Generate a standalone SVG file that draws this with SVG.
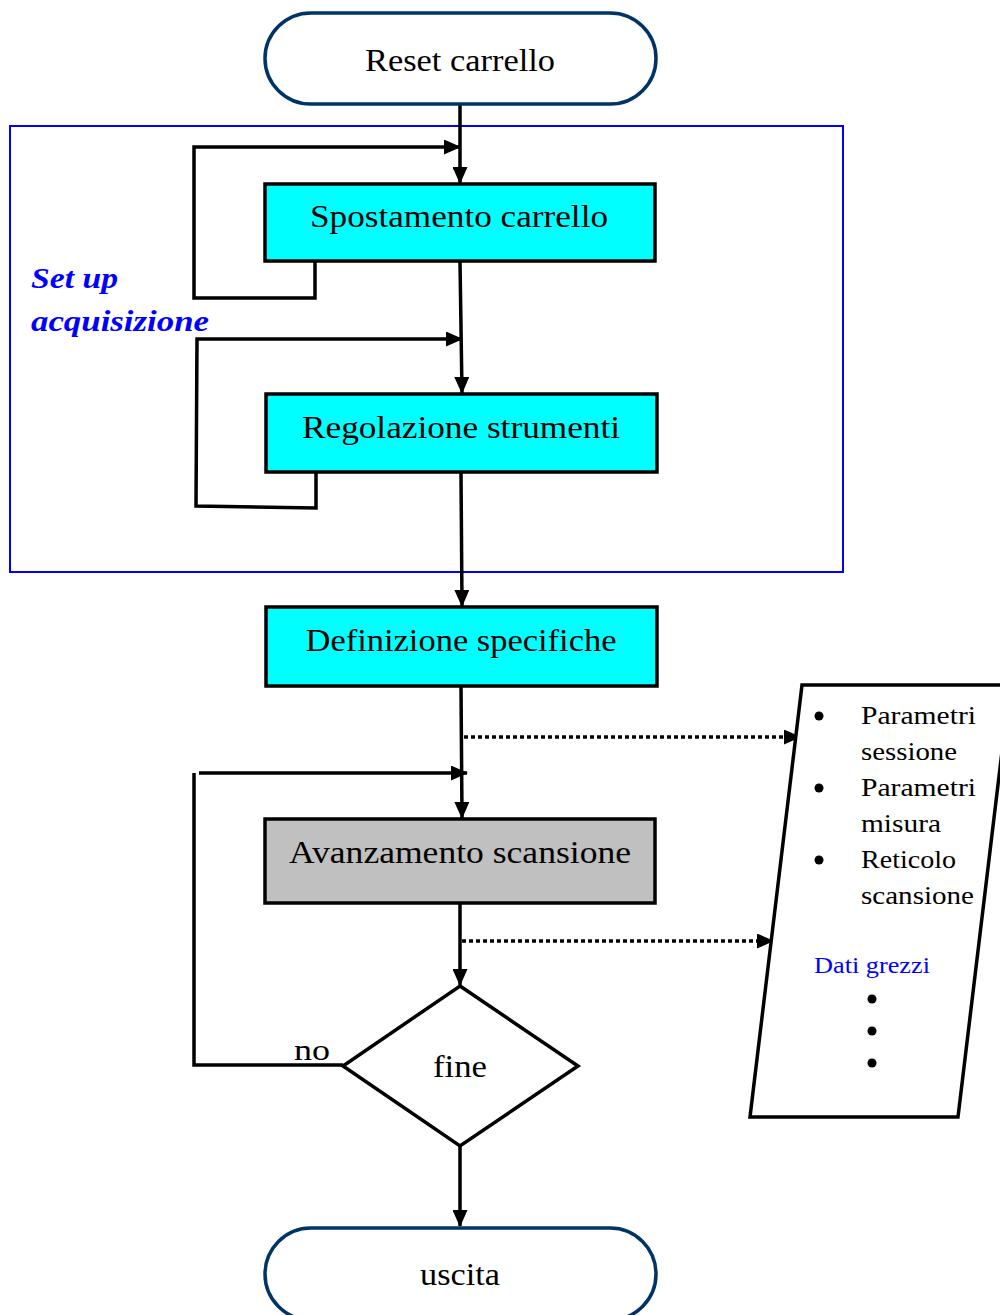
<svg xmlns="http://www.w3.org/2000/svg" width="1000" height="1315" viewBox="0 0 1000 1315">
  <defs>
    <marker id="arr" viewBox="0 0 17 15" refX="16" refY="7.5" markerWidth="17" markerHeight="15" markerUnits="userSpaceOnUse" orient="auto">
      <path d="M0,0 L17,7.5 L0,15 Z" fill="#000"/>
    </marker>
  </defs>
  <style>
    .t { font-family: "Liberation Serif", "DejaVu Serif", serif; fill: #000; }
    .big { font-size: 31px; text-anchor: middle; }
    .box { stroke: #000; stroke-width: 3.5; }
    .term { fill: #fff; stroke: #003366; stroke-width: 3.5; }
    .ln { fill: none; stroke: #000; stroke-width: 3.5; }
    .dot { fill: none; stroke: #000; stroke-width: 3.5; stroke-dasharray: 4 3; }
    .side { font-size: 25px; }
  </style>
  <rect width="1000" height="1315" fill="#fff"/>

  <!-- set-up group frame -->
  <g id="setup-frame">
    <rect x="10" y="126" width="833" height="446" fill="none" stroke="#0000ff" stroke-width="2"/>
    <text class="t" x="31" y="288" font-size="30" font-style="italic" font-weight="bold" style="fill:#0000ff" textLength="87" lengthAdjust="spacingAndGlyphs">Set up</text>
    <text class="t" x="31" y="331" font-size="30" font-style="italic" font-weight="bold" style="fill:#0000ff" textLength="178" lengthAdjust="spacingAndGlyphs">acquisizione</text>
  </g>

  <!-- connectors -->
  <g id="connectors">
    <line class="ln" x1="460" y1="104" x2="460" y2="183" marker-end="url(#arr)"/>
    <polyline class="ln" points="315,262 315,298 194,298 194,147 460,147" marker-end="url(#arr)"/>
    <line class="ln" x1="460" y1="262" x2="462" y2="393" marker-end="url(#arr)"/>
    <polyline class="ln" points="316,473 316,508 196,506 197,339 462,339" marker-end="url(#arr)"/>
    <line class="ln" x1="461" y1="473" x2="462" y2="606" marker-end="url(#arr)"/>
    <line class="ln" x1="461" y1="686" x2="462" y2="818" marker-end="url(#arr)"/>
    <line class="dot" x1="464" y1="737" x2="800" y2="737" marker-end="url(#arr)"/>
    <polyline class="ln" points="343,1065 194,1065 194,773"/>
    <line class="ln" x1="199" y1="773" x2="467" y2="773" marker-end="url(#arr)"/>
    <line class="ln" x1="460" y1="903" x2="460" y2="985" marker-end="url(#arr)"/>
    <line class="dot" x1="462" y1="941" x2="773" y2="941" marker-end="url(#arr)"/>
    <line class="ln" x1="460" y1="1146" x2="460" y2="1226" marker-end="url(#arr)"/>
    <text class="t" x="294" y="1060" font-size="29" textLength="36" lengthAdjust="spacingAndGlyphs">no</text>
  </g>

  <g id="reset">
    <rect class="term" x="265" y="13" width="391" height="91" rx="46" ry="46"/>
    <text class="t big" x="460" y="71" textLength="190" lengthAdjust="spacingAndGlyphs">Reset carrello</text>
  </g>

  <g id="spostamento">
    <rect class="box" x="265" y="184" width="390" height="77" fill="#00ffff"/>
    <text class="t big" x="459" y="227" textLength="298" lengthAdjust="spacingAndGlyphs">Spostamento carrello</text>
  </g>

  <g id="regolazione">
    <rect class="box" x="266" y="394" width="391" height="78" fill="#00ffff"/>
    <text class="t big" x="461" y="438" textLength="318" lengthAdjust="spacingAndGlyphs">Regolazione strumenti</text>
  </g>

  <g id="definizione">
    <rect class="box" x="266" y="607" width="391" height="79" fill="#00ffff"/>
    <text class="t big" x="461" y="651" textLength="311" lengthAdjust="spacingAndGlyphs">Definizione specifiche</text>
  </g>

  <g id="avanzamento">
    <rect class="box" x="265" y="819" width="390" height="84" fill="#c0c0c0"/>
    <text class="t big" x="460" y="863" textLength="342" lengthAdjust="spacingAndGlyphs">Avanzamento scansione</text>
  </g>

  <g id="fine">
    <polygon class="box" points="460,986 578,1066 460,1146 343,1066" fill="#fff"/>
    <text class="t big" x="460" y="1077" textLength="54" lengthAdjust="spacingAndGlyphs">fine</text>
  </g>

  <g id="uscita">
    <rect class="term" x="265" y="1228" width="391" height="92" rx="46" ry="46"/>
    <text class="t big" x="460" y="1285" textLength="80" lengthAdjust="spacingAndGlyphs">uscita</text>
  </g>

  <g id="dati">
    <polygon class="box" points="802,685 1010,685 958,1117 750,1117" fill="#fff"/>
    <circle cx="819" cy="716" r="4.5" fill="#000"/>
    <circle cx="819" cy="788" r="4.5" fill="#000"/>
    <circle cx="819" cy="860" r="4.5" fill="#000"/>
    <text class="t side" x="861" y="724" textLength="115" lengthAdjust="spacingAndGlyphs">Parametri</text>
    <text class="t side" x="861" y="760" textLength="96" lengthAdjust="spacingAndGlyphs">sessione</text>
    <text class="t side" x="861" y="796" textLength="115" lengthAdjust="spacingAndGlyphs">Parametri</text>
    <text class="t side" x="861" y="832" textLength="80" lengthAdjust="spacingAndGlyphs">misura</text>
    <text class="t side" x="861" y="868" textLength="95" lengthAdjust="spacingAndGlyphs">Reticolo</text>
    <text class="t side" x="861" y="904" textLength="113" lengthAdjust="spacingAndGlyphs">scansione</text>
    <text class="t" x="814" y="973" font-size="23" style="fill:#0000ff" textLength="116" lengthAdjust="spacingAndGlyphs">Dati grezzi</text>
    <circle cx="872" cy="999" r="4.5" fill="#000"/>
    <circle cx="872" cy="1031" r="4.5" fill="#000"/>
    <circle cx="872" cy="1063" r="4.5" fill="#000"/>
  </g>
</svg>
